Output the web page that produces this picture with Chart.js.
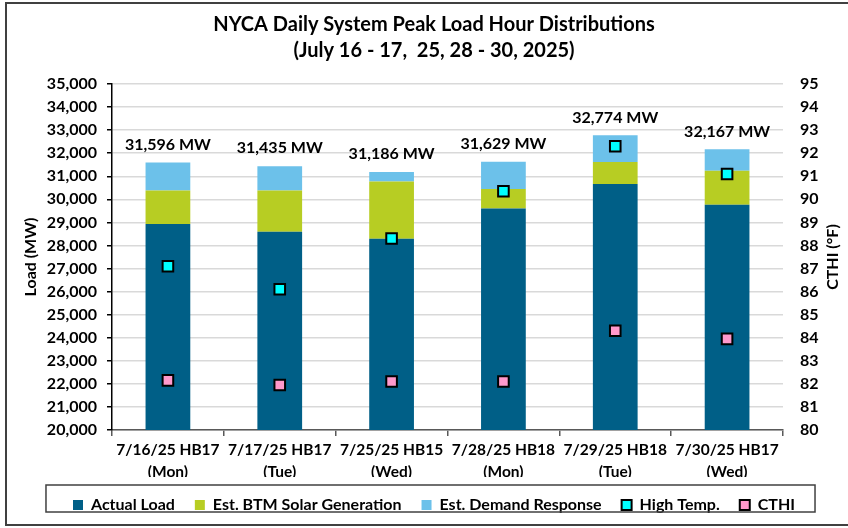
<!DOCTYPE html>
<html>
<head>
<meta charset="utf-8">
<title>NYCA Daily System Peak Load Hour Distributions</title>
<script src="https://cdn.jsdelivr.net/npm/chart.js@4.4.1/dist/chart.umd.min.js"></script>
<style>
  html, body { margin: 0; padding: 0; background: #fff; overflow: hidden; }
  #wrap { position: relative; width: 848px; height: 528px; }
  #frame {
    position: absolute; left: 5px; top: 2px; width: 900px; height: 524px;
    border: 2px solid #404040; box-sizing: border-box; pointer-events: none;
  }
</style>
</head>
<body>
<div id="wrap">
  <canvas id="peakChart" width="848" height="528"></canvas>
  <div id="frame"></div>
</div>
<script>
// peak hours shown on the x axis
const categories = [
  ['7/16/25 HB17', '(Mon)'],
  ['7/17/25 HB17', '(Tue)'],
  ['7/25/25 HB15', '(Wed)'],
  ['7/28/25 HB18', '(Mon)'],
  ['7/29/25 HB18', '(Tue)'],
  ['7/30/25 HB17', '(Wed)']
];

// MW, stacked bars
const actualLoad = [28930, 28600, 28290, 29600, 30660, 29770];
const btmSolar   = [1450, 1780, 2480, 850, 960, 1470];
const demandResp = [1216, 1055, 416, 1179, 1154, 927];
// labels above each bar
const peakTotals = [31596, 31435, 31186, 31629, 32774, 32167];

// deg F, right axis
const highTemp = [87.1, 86.1, 88.3, 90.35, 92.3, 91.1];
const cthi     = [82.15, 81.95, 82.1, 82.1, 84.3, 83.95];

Chart.defaults.font.family = 'Lato, "Liberation Sans", sans-serif';
Chart.defaults.font.weight = 'bold';
Chart.defaults.color = '#000';

// axis titles, both read bottom to top
const axisTitles = {
  id: 'axisTitles',
  afterDraw(chart) {
    const ctx = chart.ctx;
    const area = chart.chartArea;
    const midY = (area.top + area.bottom) / 2;
    ctx.save();
    ctx.font = 'bold 16px Lato, "Liberation Sans", sans-serif';
    ctx.fillStyle = '#000';
    ctx.textAlign = 'center';
    ctx.textBaseline = 'middle';
    [['Load (MW)', 31], ['CTHI (°F)', 833]].forEach(([txt, x]) => {
      ctx.save();
      ctx.translate(x, midY);
      ctx.rotate(-Math.PI / 2);
      ctx.fillText(txt, 0, 0);
      ctx.restore();
    });
    ctx.restore();
  }
};

// "31,596 MW" above each stack
const peakLabels = {
  id: 'peakLabels',
  afterDatasetsDraw(chart) {
    const ctx = chart.ctx;
    const meta = chart.getDatasetMeta(2);
    ctx.save();
    ctx.font = 'bold 16px Lato, "Liberation Sans", sans-serif';
    ctx.fillStyle = '#000';
    ctx.textAlign = 'center';
    ctx.textBaseline = 'middle';
    meta.data.forEach((bar, i) => {
      ctx.fillText(peakTotals[i].toLocaleString('en-US') + ' MW', bar.x, bar.y - 18);
    });
    ctx.restore();
  }
};

// border around the legend
const legendBox = {
  id: 'legendBox',
  afterDraw(chart) {
    const lg = chart.legend;
    if (!lg || !lg.legendHitBoxes.length) return;
    const boxes = lg.legendHitBoxes;
    const first = boxes[0], last = boxes[boxes.length - 1];
    const left = first.left - 27;
    const right = last.left + last.width + 20;
    const top = first.top - 12;
    const ctx = chart.ctx;
    ctx.save();
    ctx.strokeStyle = '#404040';
    ctx.lineWidth = 1.5;
    ctx.strokeRect(left, top, right - left, 27);
    ctx.restore();
  }
};

const ctx = document.getElementById('peakChart').getContext('2d');

new Chart(ctx, {
  type: 'bar',
  data: {
    labels: categories,
    datasets: [
      {
        label: 'Actual Load',
        data: actualLoad,
        backgroundColor: '#005F87',
        borderWidth: 0,
        yAxisID: 'y',
        order: 1
      },
      {
        label: 'Est. BTM Solar Generation',
        data: btmSolar,
        backgroundColor: '#B7CD23',
        borderWidth: 0,
        yAxisID: 'y',
        order: 1
      },
      {
        label: 'Est. Demand Response',
        data: demandResp,
        backgroundColor: '#6CC1EA',
        borderWidth: 0,
        yAxisID: 'y',
        order: 1
      },
      {
        type: 'line',
        label: 'High Temp.',
        data: highTemp,
        showLine: false,
        pointStyle: 'rect',
        pointRadius: 7.5,
        backgroundColor: '#00FFFF',
        borderColor: '#000',
        borderWidth: 2,
        pointBorderWidth: 2,
        yAxisID: 'y1',
        order: 0
      },
      {
        type: 'line',
        label: 'CTHI',
        data: cthi,
        showLine: false,
        pointStyle: 'rect',
        pointRadius: 7.5,
        backgroundColor: '#FF99CC',
        borderColor: '#000',
        borderWidth: 2,
        pointBorderWidth: 2,
        yAxisID: 'y1',
        order: 0
      }
    ]
  },
  options: {
    responsive: false,
    animation: false,
    layout: {
      padding: { left: 20, right: 0, top: 0, bottom: 5 }
    },
    plugins: {
      title: {
        display: true,
        text: ['NYCA Daily System Peak Load Hour Distributions', '(July 16 - 17,  25, 28 - 30, 2025)'],
        font: { size: 20, weight: 'bold', lineHeight: 1.3 },
        color: '#000',
        padding: { top: 12, bottom: 20 }
      },
      legend: {
        position: 'bottom',
        labels: {
          boxWidth: 10,
          boxHeight: 10,
          padding: 20,
          font: { size: 16, weight: 'bold' },
          color: '#000',
          sort: (a, b) => a.datasetIndex - b.datasetIndex
        }
      },
      tooltip: { enabled: false }
    },
    datasets: {
      bar: { barPercentage: 0.4, categoryPercentage: 1 }
    },
    scales: {
      x: {
        stacked: true,
        grid: {
          offset: true,
          drawOnChartArea: false,
          drawTicks: true,
          tickLength: 6,
          tickColor: '#595959',
          lineWidth: 1.5
        },
        border: { color: '#595959', width: 1.5 },
        ticks: {
          font: { size: 15.5, weight: 'bold', lineHeight: 1.42 },
          padding: 3,
          maxRotation: 0,
          autoSkip: false
        },
        afterFit(scale) { scale.height = 47; }
      },
      y: {
        stacked: true,
        position: 'left',
        min: 20000,
        max: 35000,
        ticks: {
          stepSize: 1000,
          padding: 10,
          font: { size: 16, weight: 'bold' }
        },
        grid: {
          color: '#D9D9D9',
          lineWidth: 1.5,
          tickColor: '#000',
          tickLength: 5
        },
        border: { color: '#000', width: 1.5 },
        afterFit(scale) { scale.width = 92; }
      },
      y1: {
        position: 'right',
        min: 80,
        max: 95,
        ticks: {
          stepSize: 1,
          padding: 17,
          font: { size: 16, weight: 'bold' }
        },
        grid: { display: false, drawTicks: false },
        border: { display: false },
        afterFit(scale) { scale.width = 65; }
      }
    }
  },
  plugins: [axisTitles, peakLabels, legendBox]
});
</script>
</body>
</html>
